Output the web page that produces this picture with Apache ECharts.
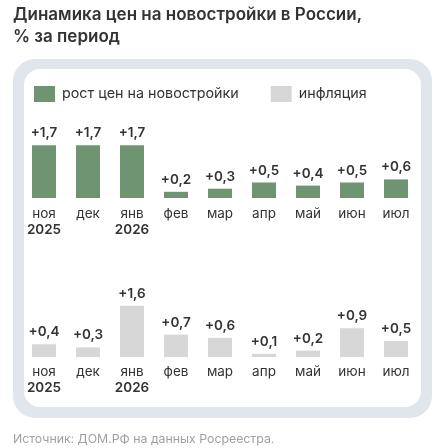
<!DOCTYPE html>
<html>
<head>
<meta charset="utf-8">
<script src="https://cdn.jsdelivr.net/npm/echarts@6/dist/echarts.min.js"></script>
<style>
  html, body { margin: 0; padding: 0; background: #fff; }
  #chart { width: 441px; height: 448px; }
</style>
</head>
<body>
<div id="chart"></div>
<script>
// данные
var months = ["ноя", "дек", "янв", "фев", "мар", "апр", "май", "июн", "июл"];
var years = ["2025", "", "2026", "", "", "", "", "", ""];
var priceGrowth = [1.7, 1.7, 1.7, 0.2, 0.3, 0.5, 0.4, 0.5, 0.6];
var inflation = [0.4, 0.3, 1.6, 0.7, 0.6, 0.1, 0.2, 0.9, 0.5];

var FONT = "Inter";
var TEXT = "#333333";
var GREEN = "#6f9471";
var GRAY = "#d7d7d7";

function monthLabel(value, index) {
  var y = years[index];
  return y ? value + "\n{y|" + y + "}" : value;
}

function valueLabel(p) {
  return "+" + String(p.value).replace(".", ",");
}

function xAxis(gridIndex, margin) {
  return {
    type: "category",
    gridIndex: gridIndex,
    data: months,
    axisLine: { show: false },
    axisTick: { show: false },
    axisLabel: {
      interval: 0,
      margin: margin,
      color: TEXT,
      fontFamily: FONT,
      fontSize: 13.5,
      lineHeight: 16,
      formatter: monthLabel,
      rich: {
        y: { fontFamily: FONT, fontSize: 13.5, fontWeight: 600, color: TEXT, lineHeight: 16 }
      }
    }
  };
}

function yAxis(gridIndex) {
  return { type: "value", gridIndex: gridIndex, min: 0, max: 2, show: false };
}

function barSeries(name, data, color, idx) {
  return {
    name: name,
    type: "bar",
    xAxisIndex: idx,
    yAxisIndex: idx,
    data: data,
    barWidth: 24,
    itemStyle: { color: color },
    label: {
      show: true,
      position: "top",
      distance: 5,
      color: TEXT,
      fontFamily: FONT,
      fontSize: 13.5,
      fontWeight: 600,
      formatter: valueLabel
    }
  };
}

var chart = echarts.init(document.getElementById("chart"));
chart.setOption({
  animation: false,
  title: {
    text: "Динамика цен на новостройки в России,\n% за период",
    left: 13,
    top: 4,
    padding: 0,
    textStyle: { fontFamily: FONT, fontSize: 17, fontWeight: 600, color: TEXT, lineHeight: 22 }
  },
  graphic: [
    { type: "rect", z: -10, shape: { x: 13, y: 59, width: 419, height: 359, r: 22 }, style: { fill: "#e1e6ec" } },
    { type: "rect", z: -9, shape: { x: 24, y: 69, width: 397, height: 338, r: 16 }, style: { fill: "#ffffff" } },
    {
      type: "text", left: 13, top: 433,
      style: { text: "Источник: ДОМ.РФ на данных Росреестра.", fontFamily: FONT, fontSize: 12.3, fill: "#a0a0a0" }
    }
  ],
  legend: {
    left: 34,
    top: 86,
    padding: 0,
    itemWidth: 21,
    itemHeight: 16,
    itemGap: 32,
    icon: "rect",
    textStyle: { fontFamily: FONT, fontSize: 14.3, color: TEXT, padding: [0, 0, 0, 2] },
    data: ["рост цен на новостройки", "инфляция"]
  },
  grid: [
    { left: 22, width: 396, top: 136, height: 62 },
    { left: 22, width: 396, top: 293, height: 64 }
  ],
  xAxis: [xAxis(0, 8), xAxis(1, 7)],
  yAxis: [yAxis(0), yAxis(1)],
  series: [
    barSeries("рост цен на новостройки", priceGrowth, GREEN, 0),
    barSeries("инфляция", inflation, GRAY, 1)
  ]
});
</script>
</body>
</html>
